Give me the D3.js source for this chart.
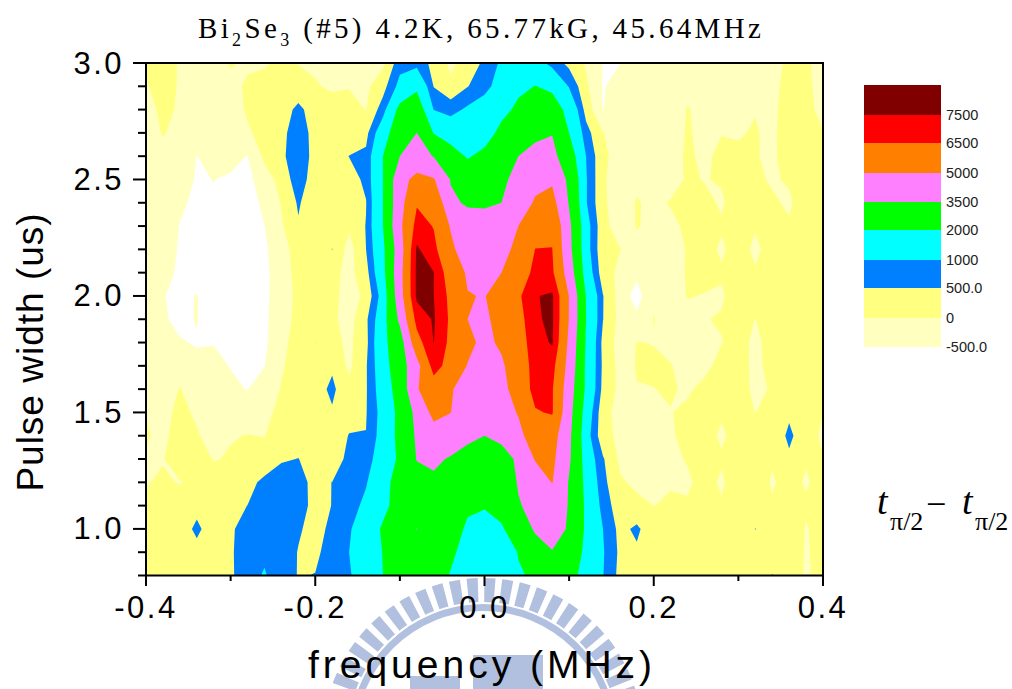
<!DOCTYPE html>
<html>
<head>
<meta charset="utf-8">
<script src="https://cdnjs.cloudflare.com/ajax/libs/d3/7.8.5/d3.min.js"></script>
<style>
	html, body { margin: 0; padding: 0; background: #fff; }
	svg { display: block; }
	.sans { font-family: "Liberation Sans", Arial, sans-serif; fill: #000; }
	.serif { font-family: "Liberation Serif", "Times New Roman", serif; fill: #000; }
</style>
</head>
<body>
<div id="chart"></div>
<script>
const width = 1012;
const height = 689;

const frequency = [-0.40,-0.38,-0.36,-0.34,-0.32,-0.30,-0.28,-0.26,-0.24,-0.22,-0.20,-0.18,-0.16,-0.14,-0.12,-0.10,-0.08,-0.06,-0.04,-0.02,0.00,0.02,0.04,0.06,0.08,0.10,0.12,0.14,0.16,0.18,0.20,0.22,0.24,0.26,0.28,0.30,0.32,0.34,0.36,0.38,0.40];
const pulseWidth = [3.0,2.9,2.8,2.7,2.6,2.5,2.4,2.3,2.2,2.1,2.0,1.9,1.8,1.7,1.6,1.5,1.4,1.3,1.2,1.1,1.0,0.9,0.8];

// one row per pulse width
const intensity = [
	[20,150,-30,-150,-100,30,-50,-50,100,-20,-100,-150,-150,-100,-100,800,800,350,-100,200,600,1100,1400,1300,800,350,-50,-510,-510,-200,-100,-150,-150,-150,-150,-150,-100,-100,60,40,-100],
	[-20,120,-30,-200,-200,-100,50,150,200,250,50,-100,-30,-100,300,1200,1800,480,100,480,800,1300,1800,2020,1800,950,100,-540,-300,-200,-150,-150,-100,-150,-150,-150,-100,-80,100,60,-100],
	[-100,60,-30,-200,-250,-150,40,200,300,600,300,300,200,-20,750,2300,2700,980,800,1100,1350,1700,2200,2700,2500,1700,300,-510,-300,-200,-300,-200,20,-100,-150,-100,-10,-50,100,50,-50],
	[-150,20,-100,-300,-300,-200,-40,100,350,800,300,300,200,350,1500,2800,3510,1950,1500,1250,1500,2300,2800,3000,3450,2000,700,20,-250,-200,-200,-150,30,-80,-10,-20,20,-60,150,120,10],
	[-180,-100,-300,-505,-420,-400,-510,100,350,950,250,250,510,600,2000,3500,4000,3450,2500,1900,2300,3000,3500,4200,3900,2600,1000,80,-150,-150,-150,-100,40,-50,60,40,20,-60,150,150,100],
	[-200,-280,-350,-530,-495,-540,-650,-200,150,800,200,250,300,600,2000,4500,5400,5100,3450,2700,2800,3300,3800,4500,4800,3200,1050,50,-200,-60,-100,-100,30,-10,20,100,50,-30,30,150,150],
	[-200,-300,-450,-560,-530,-600,-700,-400,30,560,150,200,200,480,2000,4500,6400,6450,3650,3400,3400,3500,4000,5200,5500,3400,1050,50,-150,20,-60,20,50,60,-30,120,100,40,-40,150,150],
	[-200,-320,-510,-620,-650,-700,-750,-505,-60,450,120,300,80,520,2000,4700,6900,6450,4900,3900,3800,3900,5000,6000,6300,3800,1300,130,-200,20,-80,-60,50,100,30,100,20,100,30,150,180],
	[-220,-400,-520,-650,-700,-750,-800,-600,-120,130,200,510,-200,500,1750,4300,7650,6800,5300,4200,4100,4500,5400,6520,6520,3900,1300,100,10,-100,-100,-60,10,100,-40,100,-50,100,150,150,180],
	[-230,-420,-540,-700,-750,-780,-850,-650,-150,100,200,150,-150,300,1650,4500,7700,7520,5800,4850,4500,5000,5800,6800,6700,4300,1500,200,-100,-400,-100,-100,20,60,30,60,20,120,150,150,180],
	[-230,-480,-600,-480,-750,-780,-850,-650,-130,60,200,120,-180,100,1300,4400,7700,7510,6200,5050,4950,5600,6300,7450,7650,4950,1950,520,-200,-700,-50,-100,10,-10,-30,120,150,150,150,150,180],
	[-220,-470,-560,-485,-700,-750,-800,-620,-120,80,200,100,-200,400,1500,3800,6900,7600,6300,5000,4800,5400,6000,7400,7650,4950,2000,510,-150,-400,10,-100,-60,-10,20,100,-5,150,150,180,200],
	[-200,-400,-480,-520,-510,-650,-750,-600,-100,150,503,150,-100,350,1700,2800,6000,7520,6200,5300,4700,5200,5900,7100,7600,4700,1900,350,-200,10,-10,-100,-100,-60,-10,100,-60,100,150,180,200],
	[-180,-320,-100,-430,-430,-510,-540,-510,-50,200,300,430,-100,450,1500,2800,4500,7000,6000,4950,4300,4800,5800,6900,6900,4500,1800,400,-150,20,50,15,-120,-80,100,100,-60,80,120,150,200],
	[-150,-100,10,-100,-350,-450,-510,-300,30,250,300,600,150,450,1400,2500,4900,5800,5100,4500,4200,4600,5600,6900,6600,4200,1800,350,-120,-10,-5,30,-40,80,100,100,-50,20,-3,150,200],
	[-5,-60,50,-30,-250,-200,-200,-100,100,200,250,450,250,470,1250,2300,3900,5400,5020,4200,4000,4300,5100,6400,6600,4000,1500,150,-150,-40,-50,-10,60,100,30,100,-5,100,400,100,5],
	[30,-80,150,20,-80,-20,10,-10,200,300,300,100,530,510,1300,2300,3700,4400,4200,3800,3500,3800,4600,5800,5600,3800,1300,150,-100,-10,-100,-40,100,100,-40,100,100,100,620,150,-60],
	[-30,-20,200,150,-20,30,100,100,450,510,300,200,650,800,1300,2200,3550,3700,3400,3000,2800,3000,3700,5100,5300,3700,1500,550,-80,-100,-100,-60,20,20,30,150,150,30,400,20,20],
	[-20,50,-20,100,200,100,300,650,750,620,400,505,750,950,1600,2500,3000,3300,3000,2700,2500,2600,3600,4200,5050,3400,1700,650,50,-80,-80,-30,-40,100,-40,150,150,-30,100,-30,100],
	[50,150,200,350,300,350,505,800,850,700,350,510,750,1150,1700,2500,3000,2700,2400,2100,2100,2300,3400,3900,4000,3450,1800,800,200,100,-5,50,30,80,30,150,150,30,150,40,150],
	[100,200,250,600,250,400,800,850,800,550,350,600,950,1300,2150,2800,3520,2900,2300,1900,1500,1900,2500,3700,3700,3450,1800,1000,350,600,150,200,200,200,200,200,510,250,200,-20,100],
	[120,200,250,350,300,430,800,900,750,480,430,650,1000,1400,2030,2700,3200,2600,2150,1700,1350,1300,2050,2800,3480,2800,1750,1050,400,420,200,200,200,200,200,200,200,250,200,-30,100],
	[150,200,250,300,350,420,800,1050,700,480,510,680,950,1300,2000,3520,3000,2400,1950,1500,1300,1250,1900,2150,2300,2200,1800,1020,350,200,200,200,200,200,200,200,-10,520,200,-40,100]
];

const levels = [-500, 0, 500, 1000, 2000, 3500, 5000, 6500, 7500];
const levelLabels = ["-500.0", "0", "500.0", "1000", "2000", "3500", "5000", "6500", "7500"];
const levelColors = ["#FFFFC0", "#FFFF80", "#0080FF", "#00FFFF", "#00FF00", "#FF80FF", "#FF8000", "#FF0000", "#800000"];

const xTicks = [-0.4, -0.2, 0.0, 0.2, 0.4];
const xMinor = [-0.3, -0.1, 0.1, 0.3];
const yTicks = [1.0, 1.5, 2.0, 2.5, 3.0];
const yMinor = [0.8, 0.9, 1.1, 1.2, 1.3, 1.4, 1.6, 1.7, 1.8, 1.9, 2.1, 2.2, 2.3, 2.4, 2.6, 2.7, 2.8, 2.9];

const x = d3.scaleLinear().domain([-0.4, 0.4]).range([146, 823]);
const y = d3.scaleLinear().domain([0.8, 3.0]).range([575.5, 63]);

let svg = d3.select("#chart").append("svg")
	.attr("width", width)
	.attr("height", height);

// university seal showing through behind the bottom labels
let seal = svg.append("g")
	.attr("transform", "translate(483,738)")
	.attr("fill", "#B0C0DE");
const teeth = d3.range(-90, 90, 6.4);
seal.selectAll("path.tooth")
	.data(teeth)
	.enter().append("path")
	.attr("class", "tooth")
	.attr("d", d => d3.arc()({
		innerRadius: 136,
		outerRadius: 160,
		startAngle: (d + 0.9) * Math.PI / 180,
		endAngle: (d + 4.9) * Math.PI / 180
	}));
seal.append("path")
	.attr("d", d3.arc()({ innerRadius: 127, outerRadius: 134, startAngle: -Math.PI / 2, endAngle: Math.PI / 2 }));
svg.append("g").attr("fill", "#B0C0DE")
	.selectAll("rect")
	.data([[410, 676, 50, 13], [473, 655, 70, 34]])
	.enter().append("rect")
	.attr("x", d => d[0]).attr("y", d => d[1])
	.attr("width", d => d[2]).attr("height", d => d[3]);

svg.append("defs").append("clipPath")
	.attr("id", "plot-clip")
	.append("rect")
	.attr("x", x(-0.4)).attr("y", y(3.0))
	.attr("width", x(0.4) - x(-0.4)).attr("height", y(0.8) - y(3.0));

// d3.contours puts sample i at i + 0.5
const nx = frequency.length;
const ny = pulseWidth.length;
const gridX = d3.scaleLinear().domain([0.5, nx - 0.5]).range([x(frequency[0]), x(frequency[nx - 1])]);
const gridY = d3.scaleLinear().domain([0.5, ny - 0.5]).range([y(pulseWidth[0]), y(pulseWidth[ny - 1])]);
const path = d3.geoPath().projection(d3.geoTransform({
	point: function(px, py) {
		this.stream.point(gridX(px), gridY(py));
	}
}));

const contours = d3.contours()
	.size([nx, ny])
	.thresholds(levels)
	(intensity.flat());

svg.append("g")
	.attr("clip-path", "url(#plot-clip)")
	.selectAll("path")
	.data(contours)
	.enter().append("path")
	.attr("d", path)
	.attr("fill", (d, i) => levelColors[i]);

// frame
svg.append("rect")
	.attr("x", x(-0.4)).attr("y", y(3.0))
	.attr("width", x(0.4) - x(-0.4)).attr("height", y(0.8) - y(3.0))
	.attr("fill", "none")
	.attr("stroke", "#000")
	.attr("stroke-width", 2);

let xAxis = svg.append("g");
xAxis.selectAll("line.major").data(xTicks).enter().append("line")
	.attr("x1", d => x(d)).attr("x2", d => x(d))
	.attr("y1", 575).attr("y2", 586)
	.attr("stroke", "#000").attr("stroke-width", 2);
xAxis.selectAll("line.minor").data(xMinor).enter().append("line")
	.attr("x1", d => x(d)).attr("x2", d => x(d))
	.attr("y1", 575).attr("y2", 581)
	.attr("stroke", "#000").attr("stroke-width", 2);
xAxis.selectAll("text").data(xTicks).enter().append("text")
	.attr("class", "sans")
	.attr("x", d => x(d)).attr("y", 618)
	.attr("text-anchor", "middle")
	.style("font-size", "31px")
	.style("letter-spacing", "2.5px")
	.text(d => d.toFixed(1));

let yAxis = svg.append("g");
yAxis.selectAll("line.major").data(yTicks).enter().append("line")
	.attr("x1", 133).attr("x2", 146)
	.attr("y1", d => y(d)).attr("y2", d => y(d))
	.attr("stroke", "#000").attr("stroke-width", 2);
yAxis.selectAll("line.minor").data(yMinor).enter().append("line")
	.attr("x1", 138).attr("x2", 146)
	.attr("y1", d => y(d)).attr("y2", d => y(d))
	.attr("stroke", "#000").attr("stroke-width", 2);
yAxis.selectAll("text").data(yTicks).enter().append("text")
	.attr("class", "sans")
	.attr("x", 124).attr("y", d => y(d) + 10.5)
	.attr("text-anchor", "end")
	.style("font-size", "31px")
	.style("letter-spacing", "2.5px")
	.text(d => d.toFixed(1));

svg.append("text")
	.attr("class", "sans")
	.attr("x", 482).attr("y", 678)
	.attr("text-anchor", "middle")
	.style("font-size", "39px")
	.style("letter-spacing", "4px")
	.text("frequency (MHz)");

svg.append("text")
	.attr("class", "sans")
	.attr("transform", "translate(43,352) rotate(-90)")
	.attr("text-anchor", "middle")
	.style("font-size", "37px")
	.style("letter-spacing", "1px")
	.text("Pulse width (us)");

// title
let title = svg.append("text")
	.attr("class", "serif")
	.attr("x", 198).attr("y", 38)
	.style("font-size", "29px")
	.style("letter-spacing", "3.35px");
title.append("tspan").text("Bi");
title.append("tspan").attr("dy", 8).style("font-size", "18px").text("2");
title.append("tspan").attr("dy", -8).text("Se");
title.append("tspan").attr("dy", 8).style("font-size", "18px").text("3");
title.append("tspan").attr("dy", -8).text(" (#5) 4.2K, 65.77kG, 45.64MHz");

// legend, bottom level first
const legendEdges = [347, 318, 288, 260, 230, 202, 173, 143, 115, 85];
let legend = svg.append("g");
legend.selectAll("rect").data(levelColors).enter().append("rect")
	.attr("x", 864).attr("width", 77)
	.attr("y", (d, i) => legendEdges[i + 1])
	.attr("height", (d, i) => legendEdges[i] - legendEdges[i + 1])
	.attr("fill", d => d);
legend.selectAll("text").data(levelLabels).enter().append("text")
	.attr("class", "sans")
	.attr("x", 946)
	.attr("y", (d, i) => legendEdges[i] + 5)
	.style("font-size", "14.5px")
	.style("fill", "#222")
	.text(d => d);

// t_pi/2 - t_pi/2 note
const noteParts = [
	{ text: "t", at: 877, base: 514, size: 38, style: "italic" },
	{ text: "\u03c0/2", at: 890, base: 530, size: 26, style: "normal" },
	{ text: "\u2212", at: 926, base: 516, size: 36, style: "normal" },
	{ text: "t", at: 962, base: 514, size: 38, style: "italic" },
	{ text: "\u03c0/2", at: 975, base: 530, size: 26, style: "normal" }
];
svg.append("g").selectAll("text").data(noteParts).enter().append("text")
	.attr("class", "serif")
	.attr("x", d => d.at).attr("y", d => d.base)
	.style("font-size", d => d.size + "px")
	.style("font-style", d => d.style)
	.text(d => d.text);
</script>
</body>
</html>
